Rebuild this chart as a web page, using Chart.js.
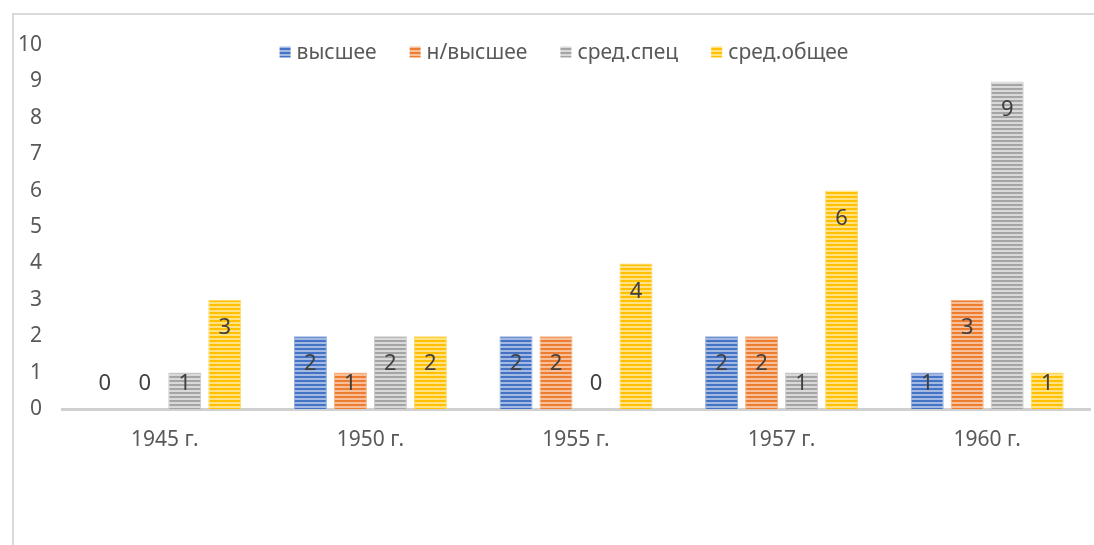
<!DOCTYPE html>
<html>
<head>
<meta charset="utf-8">
<script src="https://cdn.jsdelivr.net/npm/chart.js@4.4.1/dist/chart.umd.min.js"></script>
<style>
  html, body { margin: 0; padding: 0; background: #fff; }
  #wrap { position: relative; width: 1094px; height: 545px; overflow: hidden; }
  #frame {
    position: absolute; left: 12px; top: 13px; width: 1200px; height: 600px;
    border-left: 2px solid #d9d9d9; border-top: 2px solid #d9d9d9;
    pointer-events: none;
  }
</style>
</head>
<body>
<div id="wrap">
  <canvas id="eduChart" width="1094" height="545"></canvas>
  <div id="frame"></div>
</div>
<script>
const years = ['1945 г.', '1950 г.', '1955 г.', '1957 г.', '1960 г.'];
const seriesNames = ['высшее', 'н/высшее', 'сред.спец', 'сред.общее'];
const higher = [0, 2, 2, 2, 1];
const incompleteHigher = [0, 1, 2, 2, 3];
const secondarySpecial = [1, 2, 0, 1, 9];
const secondaryGeneral = [3, 2, 4, 6, 1];
const yMin = 0;
const yMax = 10;
const yStep = 1;

const FONT = "'Noto Sans', 'DejaVu Sans', sans-serif";
const TEXT = '#595959';

// horizontal stripe fill, like the office pattern
function stripes(base, light) {
  const c = document.createElement('canvas');
  c.width = 4; c.height = 4;
  const g = c.getContext('2d');
  g.fillStyle = base; g.fillRect(0, 0, 4, 4);
  g.fillStyle = light; g.fillRect(0, 2, 4, 2);
  return g.createPattern(c, 'repeat');
}

const fills = [
  stripes('#4472c4', '#a3b9e2'),
  stripes('#ed7d31', '#f7c09b'),
  stripes('#a5a5a5', '#d9d9d9'),
  stripes('#ffc000', '#ffe285'),
];
const edges = ['#8faadc', '#f4b183', '#c9c9c9', '#ffd966'];

const values = [higher, incompleteHigher, secondarySpecial, secondaryGeneral];

const barLabels = {
  id: 'barLabels',
  afterDatasetsDraw(chart) {
    const ctx = chart.ctx;
    ctx.save();
    ctx.font = '22px ' + FONT;
    ctx.fillStyle = '#404040';
    ctx.textAlign = 'center';
    ctx.textBaseline = 'middle';
    chart.data.datasets.forEach((ds, i) => {
      chart.getDatasetMeta(i).data.forEach((bar, j) => {
        const y = Math.min(bar.y + 28, bar.base - 25);
        ctx.fillText(String(ds.data[j]), bar.x, y);
      });
    });
    ctx.restore();
  },
};

const topLegend = {
  id: 'topLegend',
  afterDraw(chart) {
    const ctx = chart.ctx;
    ctx.save();
    ctx.font = '21px ' + FONT;
    ctx.textBaseline = 'middle';
    const box = 11, gapText = 6, gapItem = 33;
    const widths = chart.data.datasets.map(ds => box + gapText + ctx.measureText(ds.label).width);
    const total = widths.reduce((a, b) => a + b, 0) + gapItem * (widths.length - 1);
    let x = 564 - total / 2;
    const y = 52;
    chart.data.datasets.forEach((ds, i) => {
      ctx.fillStyle = ds.backgroundColor;
      ctx.fillRect(x, y - box / 2, box, box);
      ctx.fillStyle = TEXT;
      ctx.fillText(ds.label, x + box + gapText, y + 1);
      x += widths[i] + gapItem;
    });
    ctx.restore();
  },
};

new Chart(document.getElementById('eduChart'), {
  type: 'bar',
  data: {
    labels: years,
    datasets: seriesNames.map((name, i) => ({
      label: name,
      data: values[i],
      backgroundColor: fills[i],
      borderColor: edges[i],
      borderWidth: 1,
      categoryPercentage: 0.778,
      barPercentage: 0.825,
    })),
  },
  options: {
    responsive: false,
    animation: false,
    layout: { padding: { top: 45, right: 4, left: 0, bottom: 0 } },
    plugins: {
      legend: { display: false },
      tooltip: { enabled: false },
    },
    scales: {
      x: {
        grid: { display: false, drawTicks: false },
        border: { display: true, color: '#d0d0d0', width: 3 },
        ticks: { color: TEXT, font: { family: FONT, size: 21 }, padding: 18 },
        afterFit: s => { s.height = 136; },
      },
      y: {
        min: yMin,
        max: yMax,
        grid: { display: false, drawTicks: false },
        border: { display: false },
        ticks: { stepSize: yStep, color: TEXT, font: { family: FONT, size: 21 }, padding: 20 },
        afterFit: s => { s.width = 62; },
      },
    },
  },
  plugins: [barLabels, topLegend],
});
</script>
</body>
</html>
